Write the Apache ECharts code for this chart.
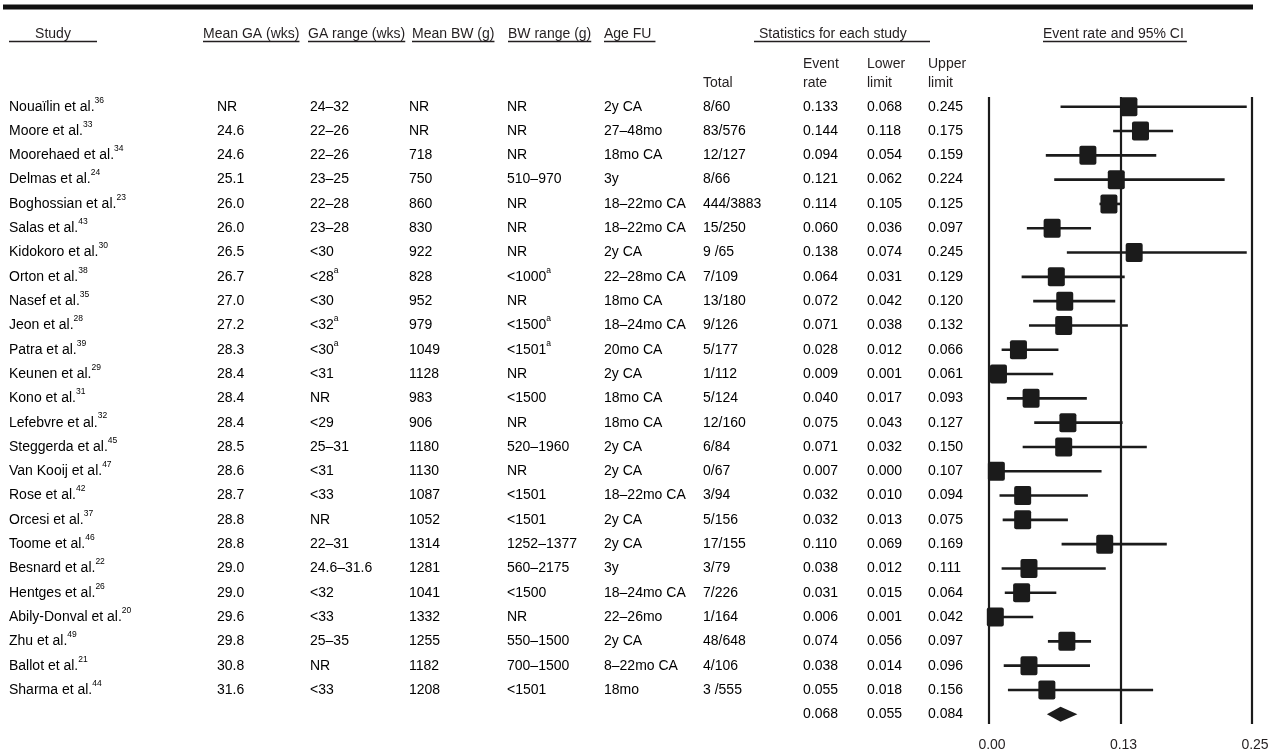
<!DOCTYPE html>
<html><head><meta charset="utf-8">
<script src="https://cdn.jsdelivr.net/npm/echarts@6/dist/echarts.min.js"></script>
<style>html,body{margin:0;padding:0;background:#fff}#c{width:1285px;height:753px}</style>
</head><body><div id="c"></div>
<script>
// ---------------- DATA ----------------
const studies = ['Nouaïlin et al.', 'Moore et al.', 'Moorehaed et al.', 'Delmas et al.', 'Boghossian et al.', 'Salas et al.', 'Kidokoro et al.', 'Orton et al.', 'Nasef et al.', 'Jeon et al.', 'Patra et al.', 'Keunen et al.', 'Kono et al.', 'Lefebvre et al.', 'Steggerda et al.', 'Van Kooij et al.', 'Rose et al.', 'Orcesi et al.', 'Toome et al.', 'Besnard et al.', 'Hentges et al.', 'Abily-Donval et al.', 'Zhu et al.', 'Ballot et al.', 'Sharma et al.'];
const refs = ['36','33','34','24','23','43','30','38','35','28','39','29','31','32','45','47','42','37','46','22','26','20','49','21','44'];
const meanGA = ['NR','24.6','24.6','25.1','26.0','26.0','26.5','26.7','27.0','27.2','28.3','28.4','28.4','28.4','28.5','28.6','28.7','28.8','28.8','29.0','29.0','29.6','29.8','30.8','31.6'];
const gaRange = ['24–32','22–26','22–26','23–25','22–28','23–28','<30','<28^a','<30','<32^a','<30^a','<31','NR','<29','25–31','<31','<33','NR','22–31','24.6–31.6','<32','<33','25–35','NR','<33'];
const meanBW = ['NR','NR','718','750','860','830','922','828','952','979','1049','1128','983','906','1180','1130','1087','1052','1314','1281','1041','1332','1255','1182','1208'];
const bwRange = ['NR','NR','NR','510–970','NR','NR','NR','<1000^a','NR','<1500^a','<1501^a','NR','<1500','NR','520–1960','NR','<1501','<1501','1252–1377','560–2175','<1500','NR','550–1500','700–1500','<1501'];
const ageFU = ['2y CA','27–48mo','18mo CA','3y','18–22mo CA','18–22mo CA','2y CA','22–28mo CA','18mo CA','18–24mo CA','20mo CA','2y CA','18mo CA','18mo CA','2y CA','2y CA','18–22mo CA','2y CA','2y CA','3y','18–24mo CA','22–26mo','2y CA','8–22mo CA','18mo'];
const totals = ['8/60','83/576','12/127','8/66','444/3883','15/250','9 /65','7/109','13/180','9/126','5/177','1/112','5/124','12/160','6/84','0/67','3/94','5/156','17/155','3/79','7/226','1/164','48/648','4/106','3 /555'];
const eventRate = [0.133,0.144,0.094,0.121,0.114,0.060,0.138,0.064,0.072,0.071,0.028,0.009,0.040,0.075,0.071,0.007,0.032,0.032,0.110,0.038,0.031,0.006,0.074,0.038,0.055];
const lowerLimit = [0.068,0.118,0.054,0.062,0.105,0.036,0.074,0.031,0.042,0.038,0.012,0.001,0.017,0.043,0.032,0.000,0.010,0.013,0.069,0.012,0.015,0.001,0.056,0.014,0.018];
const upperLimit = [0.245,0.175,0.159,0.224,0.125,0.097,0.245,0.129,0.120,0.132,0.066,0.061,0.093,0.127,0.150,0.107,0.094,0.075,0.169,0.111,0.064,0.042,0.097,0.096,0.156];
const summary = {eventRate: 0.068, lower: 0.055, upper: 0.084};
const tickValues = [0, 0.125, 0.25];
const tickLabels = ['0.00', '0.13', '0.25'];

// ---------------- LAYOUT ----------------
const FONT = '"Liberation Sans", Arial, Helvetica, sans-serif';
const FS = 14;
const TXT = '#231f20';
const INK = '#1b1b1b';
const col = {study: 9, meanGA: 217, gaRange: 310, meanBW: 409, bwRange: 507, ageFU: 604, total: 703, er: 803, ll: 867, ul: 928};
const Y_MIN = -0.4, Y_MAX = 25.4;
const PLOT = {left: 989, width: 263, top: 97, height: 627};

const fmt3 = v => v.toFixed(3);
function richStr(s) {
  const p = s.split('^');
  return '{t|' + p[0] + '}' + (p[1] ? '{s|' + p[1] + '}' : '');
}
const rich = {
  t: {fontSize: FS, fontFamily: FONT, color: TXT, lineHeight: 22},
  s: {fontSize: 8.5, fontFamily: FONT, color: TXT, lineHeight: 11, verticalAlign: 'top'}
};

const ctx = document.createElement('canvas').getContext('2d');
ctx.font = FS + 'px ' + FONT;
const tw = s => ctx.measureText(s).width;

// ---------------- HEADER GRAPHICS ----------------
const graphics = [];
graphics.push({type: 'rect', shape: {x: 3, y: 4, width: 1250, height: 5.5}, style: {fill: '#111'}, silent: true});
graphics.push({type: 'rect', shape: {x: 3, y: 4, width: 1250, height: 1}, style: {fill: '#888'}, silent: true});
function header(text, x, y, ulFrom, ulTo) {
  graphics.push({type: 'text', x: x, y: y, style: {text: text, font: FS + 'px ' + FONT, fill: TXT, verticalAlign: 'middle', align: 'left'}, silent: true});
  if (ulFrom !== undefined) {
    graphics.push({type: 'line', shape: {x1: ulFrom, y1: 41.5, x2: ulTo, y2: 41.5}, style: {stroke: TXT, lineWidth: 1.3}, silent: true});
  }
}
const HY = 34;
header('Study', 53 - tw('Study') / 2, HY, 9, 97);
[['Mean GA (wks)', 203], ['GA range (wks)', 308], ['Mean BW (g)', 412], ['BW range (g)', 508]].forEach(([t, x]) => header(t, x, HY, x, x + tw(t)));
header('Age FU', 604, HY, 604, 604 + tw('Age FU') + 4);
header('Statistics for each study', 759, HY, 754, 930);
header('Event rate and 95% CI', 1043, HY, 1043, 1043 + tw('Event rate and 95% CI') + 3);
header('Total', col.total, 83);
header('Event', col.er, 64); header('rate', col.er, 83);
header('Lower', col.ll, 64); header('limit', col.ll, 83);
header('Upper', col.ul, 64); header('limit', col.ul, 83);

// ---------------- SERIES ----------------
const rowIdx = studies.map((_, i) => i);
const tableData = rowIdx.map(i => [0, i]).concat([[0, studies.length]]);

const chart = echarts.init(document.getElementById('c'), null, {renderer: 'canvas'});
chart.setOption({
  animation: false,
  backgroundColor: '#fff',
  graphic: graphics,
  grid: [
    {left: 0, width: 985, top: PLOT.top, height: PLOT.height},
    {left: PLOT.left, width: PLOT.width, top: PLOT.top, height: PLOT.height}
  ],
  xAxis: [
    {gridIndex: 0, type: 'value', min: 0, max: 985, show: false},
    {gridIndex: 1, type: 'value', min: 0, max: 0.25, interval: 0.125,
      axisLine: {show: false}, axisTick: {show: false},
      splitLine: {show: true, lineStyle: {color: INK, width: 2.2}},
      axisLabel: {margin: 14, fontSize: FS, fontFamily: FONT, color: TXT, padding: [0, 0, 0, 6],
        formatter: v => { const k = tickValues.findIndex(t => Math.abs(t - v) < 1e-9); return k >= 0 ? tickLabels[k] : ''; }}
    }
  ],
  yAxis: [
    {gridIndex: 0, type: 'value', inverse: true, min: Y_MIN, max: Y_MAX, show: false},
    {gridIndex: 1, type: 'value', inverse: true, min: Y_MIN, max: Y_MAX, show: false}
  ],
  series: [
    {
      type: 'custom', xAxisIndex: 0, yAxisIndex: 0, silent: true,
      data: tableData,
      renderItem: function (params, api) {
        const i = api.value(1);
        const y = api.coord([0, i])[1];
        const cx = x => api.coord([x, i])[0];
        const mk = (x, str) => ({type: 'text', x: cx(x), y: y, style: {text: richStr(str), rich: rich, verticalAlign: 'middle', align: 'left'}});
        let cells;
        if (i < studies.length) {
          cells = [
            {type: 'text', x: cx(col.study), y: y, style: {text: '{t|' + studies[i] + '}{s|' + refs[i] + '}', rich: rich, verticalAlign: 'middle', align: 'left'}},
            mk(col.meanGA, meanGA[i]), mk(col.gaRange, gaRange[i]), mk(col.meanBW, meanBW[i]),
            mk(col.bwRange, bwRange[i]), mk(col.ageFU, ageFU[i]), mk(col.total, totals[i]),
            mk(col.er, fmt3(eventRate[i])), mk(col.ll, fmt3(lowerLimit[i])), mk(col.ul, fmt3(upperLimit[i]))
          ];
        } else {
          cells = [mk(col.er, fmt3(summary.eventRate)), mk(col.ll, fmt3(summary.lower)), mk(col.ul, fmt3(summary.upper))];
        }
        return {type: 'group', children: cells};
      }
    },
    {
      type: 'custom', xAxisIndex: 1, yAxisIndex: 1, silent: true, clip: false,
      data: rowIdx.map(i => [lowerLimit[i], upperLimit[i], i]),
      renderItem: function (params, api) {
        const a = api.coord([api.value(0), api.value(2)]);
        const b = api.coord([api.value(1), api.value(2)]);
        return {type: 'line', shape: {x1: a[0], y1: a[1], x2: b[0], y2: b[1]}, style: {stroke: INK, lineWidth: 2.6}};
      }
    },
    {
      type: 'custom', xAxisIndex: 1, yAxisIndex: 1, silent: true, clip: false,
      data: rowIdx.map(i => [eventRate[i], i]),
      renderItem: function (params, api) {
        const p = api.coord([api.value(0), api.value(1)]);
        const w = 17, h = 19;
        return {type: 'rect', shape: {x: p[0] - w / 2, y: p[1] - h / 2, width: w, height: h, r: 2}, style: {fill: INK}};
      }
    },
    {
      type: 'custom', xAxisIndex: 1, yAxisIndex: 1, silent: true,
      data: [[summary.lower, summary.eventRate, summary.upper, studies.length]],
      renderItem: function (params, api) {
        const r = api.value(3);
        const l = api.coord([api.value(0), r]);
        const c = api.coord([api.value(1), r]);
        const u = api.coord([api.value(2), r]);
        const h = 7.5;
        return {type: 'polygon', shape: {points: [[l[0], l[1]], [c[0], c[1] - h], [u[0], u[1]], [c[0], c[1] + h]]}, style: {fill: INK}};
      }
    }
  ]
});
</script>
</body></html>
